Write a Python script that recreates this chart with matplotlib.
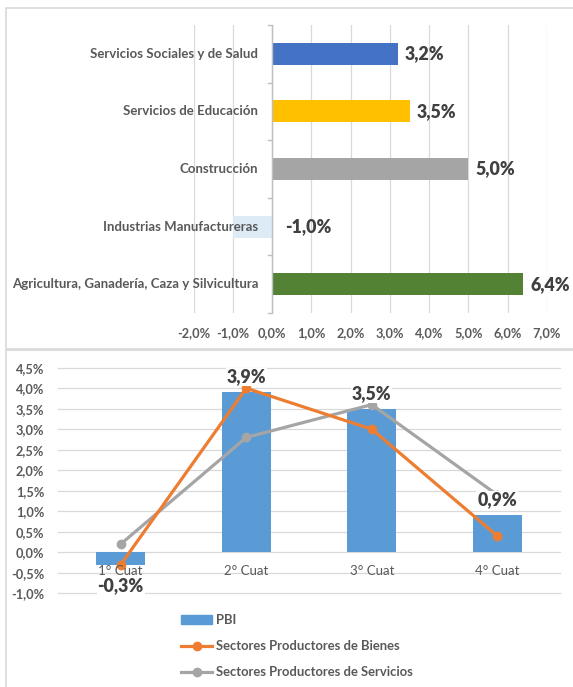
import matplotlib
matplotlib.use("Agg")
import matplotlib.pyplot as plt
from matplotlib.patches import Rectangle
from matplotlib.lines import Line2D

plt.rcParams['font.family'] = ['Lato', 'DejaVu Sans']

# ---------------- data ----------------
sectors = ["Servicios Sociales y de Salud", "Servicios de Educación", "Construcción",
           "Industrias Manufactureras", "Agricultura, Ganadería, Caza y Silvicultura"]
sector_values = [3.2, 3.5, 5.0, -1.0, 6.4]
sector_colors = ["#4472C4", "#FFC000", "#A5A5A5", "#DDEBF7", "#548235"]
top_ticks = [-2, -1, 0, 1, 2, 3, 4, 5, 6, 7]

quarters = ["1° Cuat", "2° Cuat", "3° Cuat", "4° Cuat"]
pbi = [-0.3, 3.9, 3.5, 0.9]
bienes = [-0.3, 4.0, 3.0, 0.4]
servicios = [0.2, 2.8, 3.6, 1.4]
bottom_ticks = [-1.0, -0.5, 0.0, 0.5, 1.0, 1.5, 2.0, 2.5, 3.0, 3.5, 4.0, 4.5]
series_names = ["PBI", "Sectores Productores de Bienes", "Sectores Productores de Servicios"]


def pct(v, d=1):
    return f"{v:.{d}f}%".replace(".", ",")


W, H = 573, 687
fig = plt.figure(figsize=(W / 100, H / 100), dpi=100)
fig.patch.set_facecolor("white")

# chart frames
fig.add_artist(Rectangle((6 / W, 1 - 349 / H), 1.0, 341 / H, transform=fig.transFigure,
                         fill=False, edgecolor="#D9D9D9", lw=1.2))
fig.add_artist(Rectangle((6 / W, -0.01), 1.0, 1 - 350 / H + 0.01, transform=fig.transFigure,
                         fill=False, edgecolor="#D9D9D9", lw=1.2))

label_col = "#595959"
value_col = "#404040"
tick_fs = 9.2
val_fs = 12.8
val_weight = "heavy"

# ---------------- top chart ----------------
ax1 = fig.add_axes([193.5 / W, 1 - 313 / H, (547 - 193.5) / W, (313 - 25) / H])
ypos = list(range(len(sectors)))
ax1.barh(ypos, sector_values, height=0.38, color=sector_colors, zorder=3)
ax1.set_xlim(top_ticks[0], top_ticks[-1])
ax1.set_ylim(len(sectors) - 0.5, -0.5)
ax1.set_xticks(top_ticks)
ax1.set_xticklabels([pct(t) for t in top_ticks], fontsize=tick_fs, fontweight="bold", color=label_col)
ax1.tick_params(axis="x", length=0, pad=10)
ax1.set_yticks([])
for s in ax1.spines.values():
    s.set_visible(False)
ax1.grid(axis="x", color="#D9D9D9", lw=0.9, zorder=0)
ax1.axvline(0, color="#BFBFBF", lw=1.0, zorder=4)
for b in range(len(sectors) + 1):
    ax1.plot([-0.1, 0], [b - 0.5, b - 0.5], color="#BFBFBF", lw=1.0, zorder=4, clip_on=False)

for i, (name, v) in enumerate(zip(sectors, sector_values)):
    ax1.annotate(name, xy=(0, i), xytext=(-10, 0), textcoords="offset points",
                 ha="right", va="center", fontsize=9.55, fontweight="bold", color=label_col,
                 zorder=5)
    off = 5 if v > 0 else 9.5
    ax1.annotate(pct(v), xy=(max(v, 0), i), xytext=(off, 0), textcoords="offset points",
                 ha="left", va="center", fontsize=val_fs, fontweight=val_weight, color=value_col,
                 zorder=5, annotation_clip=False)

# ---------------- bottom chart ----------------
ax2 = fig.add_axes([58 / W, 1 - 593.3 / H, (560 - 58) / W, (593.3 - 367.7) / H])
x = list(range(len(quarters)))
ax2.bar(x, pbi, width=0.39, color="#5B9BD5", zorder=2, label=series_names[0])
ax2.plot(x, bienes, color="#ED7D31", lw=2.3, marker="o", ms=6, zorder=4, label=series_names[1])
ax2.plot(x, servicios, color="#A5A5A5", lw=2.3, marker="o", ms=6, zorder=3, label=series_names[2])
ax2.set_xlim(-0.5, len(quarters) - 0.5)
ax2.set_ylim(bottom_ticks[0], bottom_ticks[-1])
ax2.set_yticks(bottom_ticks)
ax2.set_yticklabels([pct(t) for t in bottom_ticks], fontsize=tick_fs, fontweight="bold", color=label_col)
ax2.tick_params(axis="y", length=0, pad=10)
ax2.set_xticks([])
for s in ax2.spines.values():
    s.set_visible(False)
for t in bottom_ticks:
    ax2.axhline(t, color="#D9D9D9", lw=0.9, zorder=0, clip_on=False)

for i, q in enumerate(quarters):
    ax2.annotate(q, xy=(i, 0), xytext=(0, -13.5), textcoords="offset points",
                 ha="center", va="center", fontsize=9.5, color=label_col, zorder=5)
    v = pbi[i]
    off = 11 if v >= 0 else -15
    ax2.annotate(pct(v), xy=(i, v), xytext=(0, off), textcoords="offset points",
                 ha="center", va="center", fontsize=val_fs, fontweight=val_weight, color=value_col,
                 zorder=6, bbox=dict(boxstyle="square,pad=0.05", fc="white", ec="none"))

handles = [Rectangle((0, 0), 1, 1, color="#5B9BD5"),
           Line2D([], [], color="#ED7D31", lw=2.3, marker="o", ms=6),
           Line2D([], [], color="#A5A5A5", lw=2.3, marker="o", ms=6)]
leg = fig.legend(handles, series_names, loc="upper left",
                 bbox_to_anchor=(181 / W, 1 - 614 / H), frameon=False,
                 prop={"size": 9.4, "weight": "bold"}, handlelength=2.4, handleheight=0.6,
                 handletextpad=0.3, labelspacing=1.07, borderpad=0, borderaxespad=0)
for t in leg.get_texts():
    t.set_color(label_col)

fig.savefig("out.png", dpi=100, facecolor="white")
